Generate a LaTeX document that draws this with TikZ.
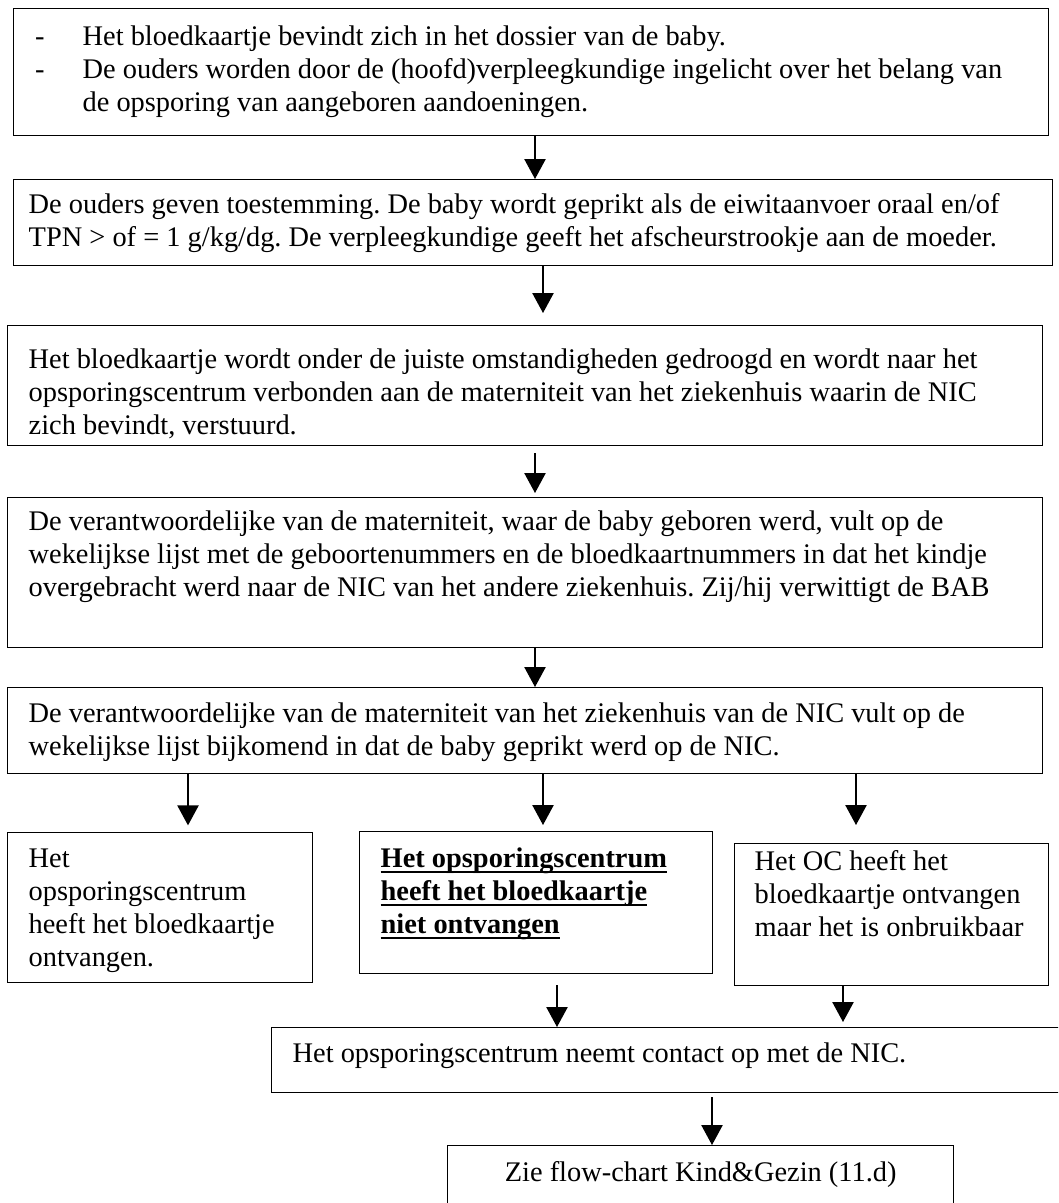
\documentclass[tikz,border=0pt]{standalone}
\usepackage{fontspec}
\setmainfont{Liberation Serif}
\usetikzlibrary{arrows.meta}
\frenchspacing
\newlength\pix
\setlength\pix{0.75pt}
\newcommand\vaktekst[5]{\parbox[c][#2\pix][t]{#1\pix}{\raggedright\leftskip=#3\pix\rule{0pt}{#4\pix}#5}}
\newcommand\streep{\leavevmode\llap{-\hspace{38\pix}}}
\newcommand\onderstreep[1]{\leavevmode\setbox0\hbox{#1}\rlap{\rule[-5\pix]{\wd0}{1.4\pix}}\box0}
\tikzset{
	vak/.style={draw,line width=1pt,anchor=north west,inner sep=0pt,font=\fontsize{21.3pt}{24.75pt}\selectfont},
	pijl/.style={line width=1pt,-{Triangle[length=15pt,width=16pt]}}
}
\begin{document}
\begin{tikzpicture}[x=0.75pt,y=-0.75pt]
\useasboundingbox (0,0) rectangle (1058,1203);
\clip (0,0) rectangle (1058,1203);
\node[vak] (ouders) at (13,8) {\vaktekst{1035}{127}{69}{37}{\streep Het bloedkaartje bevindt zich in het dossier van de baby.\\
	\streep De ouders worden door de (hoofd)verpleegkundige ingelicht over het belang van\\
	de opsporing van aangeboren aandoeningen.}};
\node[vak] (toestemming) at (13,179) {\vaktekst{1039}{86}{15}{34}{De ouders geven toestemming. De baby wordt geprikt als de eiwitaanvoer oraal en/of\\
	TPN > of = 1 g/kg/dg. De verpleegkundige geeft het afscheurstrookje aan de moeder.}};
\node[vak] (drogen) at (7,325) {\vaktekst{1035}{120}{21}{43}{Het bloedkaartje wordt onder de juiste omstandigheden gedroogd en wordt naar het\\
	opsporingscentrum verbonden aan de materniteit van het ziekenhuis waarin de NIC\\
	zich bevindt, verstuurd.}};
\node[vak] (geboortemat) at (7,497) {\vaktekst{1035}{150}{21}{33}{De verantwoordelijke van de materniteit, waar de baby geboren werd, vult op de\\
	wekelijkse lijst met de geboortenummers en de bloedkaartnummers in dat het kindje\\
	overgebracht werd naar de NIC van het andere ziekenhuis. Zij/hij verwittigt de BAB}};
\node[vak] (nicmat) at (7,687) {\vaktekst{1035}{86}{21}{35}{De verantwoordelijke van de materniteit van het ziekenhuis van de NIC vult op de\\
	wekelijkse lijst bijkomend in dat de baby geprikt werd op de NIC.}};
\node[vak] (ontvangen) at (7,832) {\vaktekst{305}{150}{21}{35}{Het\\opsporingscentrum\\heeft het bloedkaartje\\ontvangen.}};
\node[vak] (nietontv) at (359,831) {\vaktekst{353}{142}{21}{36}{\bfseries\onderstreep{Het opsporingscentrum}\\
	\onderstreep{heeft het bloedkaartje}\\\onderstreep{niet ontvangen}}};
\node[vak] (onbruik) at (734,843) {\vaktekst{314}{142}{20}{27}{Het OC heeft het\\bloedkaartje ontvangen\\maar het is onbruikbaar}};
\node[vak] (contact) at (271,1027) {\vaktekst{800}{65}{21}{35}{Het opsporingscentrum neemt contact op met de NIC.}};
\node[vak] (kindgezin) at (447,1145) {\vaktekst{506}{80}{0}{36}{\centering Zie flow-chart Kind\&Gezin (11.d)}};
\draw[pijl] (ouders.south -| 535,0) -- (toestemming.north -| 535,0);
\draw[pijl,shorten >=9pt] (toestemming.south -| 543,0) -- (drogen.north -| 543,0);
\draw[pijl,shorten <=5pt,shorten >=3pt] (drogen.south -| 535,0) -- (geboortemat.north -| 535,0);
\draw[pijl] (geboortemat.south -| 535,0) -- (nicmat.north -| 535,0);
\draw[pijl,shorten >=5pt] (nicmat.south -| 188,0) -- (ontvangen.north -| 188,0);
\draw[pijl,shorten >=4.5pt] (nicmat.south -| 543,0) -- (nietontv.north -| 543,0);
\draw[pijl,shorten >=13.5pt] (nicmat.south -| 856,0) -- (onbruik.north -| 856,0);
\draw[pijl,shorten <=8pt] (nietontv.south -| 557,0) -- (contact.north -| 557,0);
\draw[pijl,shorten >=3.75pt] (onbruik.south -| 843,0) -- (contact.north -| 843,0);
\draw[pijl,shorten <=3pt] (contact.south -| 712,0) -- (kindgezin.north -| 712,0);
\end{tikzpicture}
\end{document}
